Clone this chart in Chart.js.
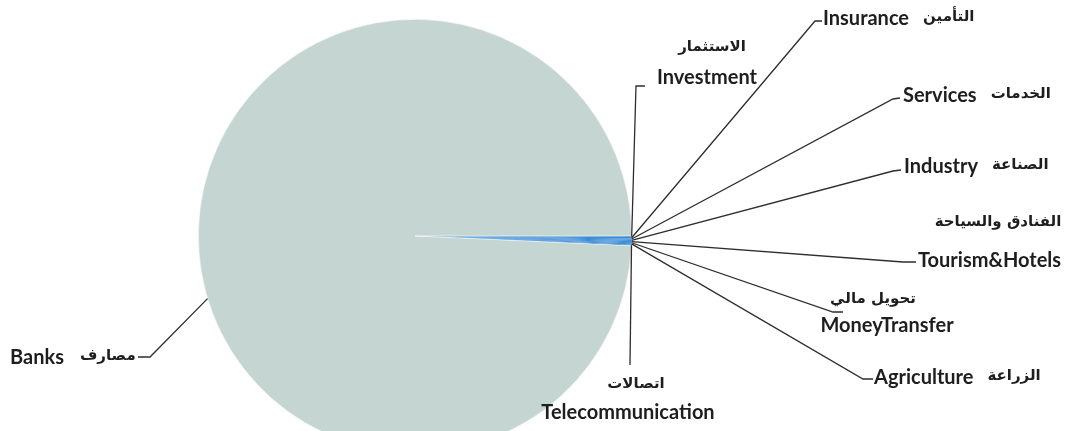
<!DOCTYPE html>
<html>
<head>
<meta charset="utf-8">
<script src="https://cdn.jsdelivr.net/npm/chart.js@4.4.1/dist/chart.umd.min.js"></script>
<style>
  html,body{margin:0;padding:0;background:#fff;overflow:hidden;}
  #wrap{width:1087px;height:431px;overflow:hidden;position:relative;}
  canvas{display:block;}
</style>
</head>
<body>
<div id="wrap"><canvas id="c" width="1087" height="480"></canvas></div>
<script>
// ---- data ----
const categories = ['Investment','Insurance','Services','Industry','Tourism&Hotels','MoneyTransfer','Agriculture','Telecommunication','Banks'];
const arabicNames = ['الاستثمار','التأمين','الخدمات','الصناعة','الفنادق والسياحة','تحويل مالي','الزراعة','اتصالات','مصارف'];
const values = [1.1, 1.4, 1.3, 1.5, 1.2, 1.0, 1.4, 1.1, 1400];

// ---- styles ----
const sliceColors = ['#3a8cd6','#3a8cd6','#3a8cd6','#3a8cd6','#3a8cd6','#3a8cd6','#3a8cd6','#3a8cd6','#c5d5d2'];
const EN_FONT = 'bold 20px Lato, "DejaVu Sans", sans-serif';
const AR_FONT = 'bold 15px "DejaVu Sans", sans-serif';
const TEXT_COLOR = '#1e1e1e';
const LINE_COLOR = '#2e2e2e';
// anchor angle override (degrees, canvas convention) — null means slice middle
const anchorAngles = [null,null,null,null,null,null,null,null,163.2];
// leader-line elbows / ends and label text placement ('after' = Arabic follows English with a gap)
const layout = [
  {ex:636,ey:86, lx:645,ly:86,  en:{x:707,y:78,a:'center'},  ar:{x:712,y:47,a:'center'}},
  {ex:815,ey:21, lx:822,ly:21,  en:{x:823,y:19,a:'left'},    ar:{after:14,y:17}},
  {ex:893,ey:99, lx:900,ly:98,  en:{x:903,y:96,a:'left'},    ar:{after:14,y:94}},
  {ex:893,ey:171,lx:901,ly:170, en:{x:904,y:167,a:'left'},   ar:{after:14,y:165}},
  {ex:903,ey:262,lx:916,ly:262, en:{x:918,y:261,a:'left'},   ar:{x:998,y:222,a:'center'}},
  {ex:833,ey:312,lx:843,ly:312, en:{x:887,y:326,a:'center'}, ar:{x:873,y:299,a:'center'}},
  {ex:863,ey:379,lx:873,ly:379, en:{x:874,y:378,a:'left'},   ar:{after:14,y:376}},
  {ex:630,ey:365,lx:630,ly:365, en:{x:628,y:413,a:'center'}, ar:{x:636,y:384,a:'center'}},
  {ex:150,ey:357,lx:138,ly:357, en:{x:10,y:358,a:'left'},    ar:{after:16,y:356}}
];

const leaderPlugin = {
  id: 'leaders',
  afterDatasetsDraw(chart) {
    const ctx = chart.ctx;
    const meta = chart.getDatasetMeta(0);
    ctx.save();
    categories.forEach((cat, i) => {
      const arc = meta.data[i];
      const p = arc.getProps(['x','y','startAngle','endAngle','outerRadius'], true);
      const ang = anchorAngles[i] !== null ? anchorAngles[i] * Math.PI / 180 : (p.startAngle + p.endAngle) / 2;
      const sx = p.x + Math.cos(ang) * p.outerRadius;
      const sy = p.y + Math.sin(ang) * p.outerRadius;
      const L = layout[i];
      ctx.beginPath();
      ctx.moveTo(sx, sy);
      ctx.lineTo(L.ex, L.ey);
      ctx.lineTo(L.lx, L.ly);
      ctx.strokeStyle = LINE_COLOR;
      ctx.lineWidth = 1.3;
      ctx.stroke();
      ctx.fillStyle = TEXT_COLOR;
      ctx.textBaseline = 'middle';
      ctx.font = EN_FONT;
      ctx.textAlign = L.en.a;
      ctx.fillText(cat, L.en.x, L.en.y);
      let ax, aa;
      if (L.ar.after !== undefined) {
        ax = L.en.x + ctx.measureText(cat).width + L.ar.after;
        aa = 'left';
      } else { ax = L.ar.x; aa = L.ar.a; }
      ctx.font = AR_FONT;
      ctx.textAlign = aa;
      ctx.fillText(arabicNames[i], ax, L.ar.y);
    });
    ctx.restore();
  }
};

new Chart(document.getElementById('c'), {
  type: 'pie',
  data: {
    labels: categories,
    datasets: [{
      data: values,
      backgroundColor: sliceColors,
      borderColor: ['rgba(0,0,0,0)','rgba(0,0,0,0)','rgba(0,0,0,0)','rgba(0,0,0,0)','rgba(0,0,0,0)','rgba(0,0,0,0)','rgba(0,0,0,0)','rgba(0,0,0,0)','#ffffff'],
      borderWidth: [0,0,0,0,0,0,0,0,0.6]
    }]
  },
  options: {
    responsive: false,
    animation: false,
    rotation: 90,
    layout: { padding: { left: 198, right: 455, top: 19, bottom: 27 } },
    plugins: { legend: { display: false }, tooltip: { enabled: false } },
    events: []
  },
  plugins: [leaderPlugin]
});
</script>
</body>
</html>
